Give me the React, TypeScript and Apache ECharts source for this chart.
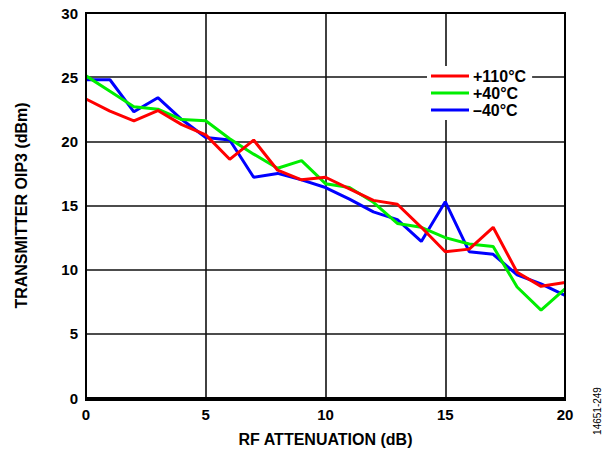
import React, { useEffect, useRef } from "react";
import * as echarts from "echarts";

const attenuation = [0, 1, 2, 3, 4, 5, 6, 7, 8, 9, 10, 11, 12, 13, 14, 15, 16, 17, 18, 19, 20];
const oip3Hot = [23.3, 22.35, 21.6, 22.4, 21.3, 20.5, 18.6, 20.1, 17.75, 17.0, 17.2, 16.3, 15.4, 15.1, 13.3, 11.4, 11.6, 13.3, 9.8, 8.7, 9.0];
const oip3Room = [25.1, 23.9, 22.7, 22.5, 21.7, 21.6, 20.2, 19.0, 17.9, 18.5, 16.7, 16.4, 15.25, 13.6, 13.3, 12.5, 12.0, 11.8, 8.65, 6.85, 8.5];
const oip3Cold = [24.8, 24.8, 22.3, 23.4, 21.7, 20.3, 20.1, 17.2, 17.5, 17.0, 16.4, 15.5, 14.5, 13.9, 12.2, 15.3, 11.4, 11.2, 9.6, 8.9, 8.0];
const seriesNames = ["+110°C", "+40°C", "\u201340°C"];
const seriesColors = ["#ff0000", "#00ee00", "#0000ff"];

const FONT = "Liberation Sans, Arial, sans-serif";

export default function App() {
  const ref = useRef<HTMLDivElement>(null);
  useEffect(() => {
    if (!ref.current) return;
    const chart = echarts.init(ref.current, null, { renderer: "svg" });
    const toPairs = (arr: number[]) => attenuation.map((x, i) => [x, arr[i]]);
    const mk = (name: string, data: number[], color: string, z: number) => ({
      name,
      type: "line",
      data: toPairs(data),
      showSymbol: false,
      symbol: "none",
      lineStyle: { color, width: 3 },
      itemStyle: { color },
      z,
    });
    chart.setOption({
      animation: false,
      backgroundColor: "#ffffff",
      grid: { left: 86, right: 48, top: 13, bottom: 52, show: false },
      legend: {
        data: seriesNames,
        orient: "vertical",
        left: 427,
        top: 66,
        itemWidth: 38,
        itemHeight: 3,
        itemGap: 1,
        padding: [2, 6, 2, 4],
        backgroundColor: "#ffffff",
        icon: "rect",
        textStyle: { fontFamily: FONT, fontWeight: "bold", fontSize: 16, color: "#000", padding: [0, 0, 0, -1] },
        z: 10,
      },
      xAxis: {
        type: "value",
        min: 0,
        max: 20,
        interval: 5,
        name: "RF ATTENUATION (dB)",
        nameLocation: "middle",
        nameGap: 33,
        nameTextStyle: { fontFamily: FONT, fontWeight: "bold", fontSize: 16, color: "#000" },
        axisLine: { show: true, onZero: false, lineStyle: { color: "#000", width: 2 } },
        axisTick: { show: false },
        axisLabel: { fontFamily: FONT, fontWeight: "bold", fontSize: 15, color: "#000", margin: 9 },
        splitLine: { show: true, lineStyle: { color: "#111", width: 1.6 } },
      },
      yAxis: {
        type: "value",
        min: 0,
        max: 30,
        interval: 5,
        name: "TRANSMITTER OIP3 (dBm)",
        nameLocation: "middle",
        nameGap: 57,
        nameRotate: 90,
        nameTextStyle: { fontFamily: FONT, fontWeight: "bold", fontSize: 16, color: "#000" },
        axisLine: { show: true, onZero: false, lineStyle: { color: "#000", width: 2 } },
        axisTick: { show: false },
        axisLabel: { fontFamily: FONT, fontWeight: "bold", fontSize: 15, color: "#000", margin: 8 },
        splitLine: { show: true, lineStyle: { color: "#111", width: 1.6 } },
      },
      graphic: [
        {
          type: "rect",
          shape: { x: 86, y: 13, width: 479, height: 387 },
          style: { fill: "none", stroke: "#000", lineWidth: 2 },
          silent: true,
          z: 5,
        },
        {
          type: "text",
          x: 597,
          y: 411,
          rotation: Math.PI / 2,
          style: {
            text: "14651-249",
            fontFamily: FONT,
            fontSize: 10,
            fill: "#000",
            align: "center",
            verticalAlign: "middle",
          },
        },
      ],
      series: [
        mk(seriesNames[2], oip3Cold, seriesColors[2], 2),
        mk(seriesNames[1], oip3Room, seriesColors[1], 3),
        mk(seriesNames[0], oip3Hot, seriesColors[0], 4),
      ],
    });
    return () => chart.dispose();
  }, []);
  return <div ref={ref} style={{ width: 613, height: 452, position: "absolute", left: 0, top: 0 }} />;
}
